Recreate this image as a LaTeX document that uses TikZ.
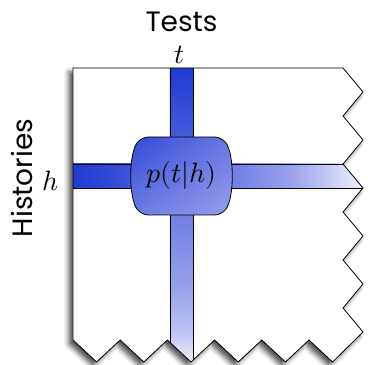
\documentclass[tikz,border=0pt]{standalone}
\usepackage{fontspec}
\usepackage{unicode-math}
\setmathfont{Latin Modern Math}
\setsansfont{Poppins}
\usepackage{xcolor}
\definecolor{hbdark}{RGB}{32,58,212}
\definecolor{hbmid}{RGB}{115,128,228}
\definecolor{hblight}{RGB}{150,160,235}
\definecolor{hbsoft}{RGB}{190,195,242}
\definecolor{hbfade}{RGB}{242,243,253}
\usepackage{tikz}
\usetikzlibrary{positioning, shadings, shadows.blur}

\newcommand{\hbmathsize}{\fontsize{28}{33}\selectfont}
\newcommand{\hbwordsize}{\fontsize{28}{34}\selectfont\sffamily}

% fades of the column (bottom to top) and of the row (left to right)
\pgfdeclareverticalshading{hbcolumnfade}{100bp}{color(0bp)=(hbfade); color(25bp)=(hbfade);
  color(30bp)=(hbsoft); color(38bp)=(hblight); color(75bp)=(hbdark); color(100bp)=(hbdark)}
\pgfdeclarehorizontalshading{hbrowfade}{100bp}{color(0bp)=(hbdark); color(25bp)=(hbdark);
  color(53bp)=(hbmid); color(62bp)=(hblight); color(68bp)=(hbsoft); color(75bp)=(hbfade);
  color(100bp)=(hbfade)}

% outline of the (cut off) history/test matrix
\newcommand{\hbmatrix}{(73,297) -- (343,297)
  \foreach \k in {1,...,11}{ -- ({ifthenelse(isodd(\k),363,343)},{297-24*\k}) }
  -- (332.6,3)
  \foreach \k in {10,...,0}{ -- ({73+23.6*\k},{ifthenelse(isodd(\k),3,25)}) }
  -- cycle}

\begin{document}
\begin{tikzpicture}[x=1pt, y=1pt,
  edge/.style={black, line width=0.8pt},
  probfill/.style={draw=black, line width=0.8pt, upper left=hbdark!92!white,
    upper right=hbmid!90!hbdark, lower left=hbmid!90!hbdark, lower right=hblight}]
  \useasboundingbox (0,0) rectangle (368,365);

  % white sheet with its shadow
  \fill[white, blur shadow={shadow xshift=-4pt, shadow yshift=-4pt,
    shadow blur radius=5pt, shadow opacity=70}] \hbmatrix;

  % the row h and the column t, cut by the zigzag edges
  \begin{scope}
    \clip \hbmatrix;
    \shade[shading=hbcolumnfade] (170,297) rectangle (193,3);
    \shade[shading=hbrowfade] (73,177) rectangle (363,201);
    \draw[edge] (170,297) -- (170,0);
    \draw[edge] (193,297) -- (193,0);
    \draw[edge] (73,177) -- (368,177);
    \draw[edge] (73,201) -- (368,201);
  \end{scope}
  \draw[edge, line join=miter] \hbmatrix;

  % the entry p(t|h)
  \node[font=\hbmathsize, inner sep=0pt] (prob) at (181.5,189) {\phantom{$p(t|h)$}};
  \begin{scope}[shift={(prob.center)}]
    \shade[probfill, rounded corners=7pt] (0,39) -- (40,39)
      .. controls (53,22) and (53,-22) .. (40,-39) -- (-40,-39)
      .. controls (-53,-22) and (-53,22) .. (-40,39) -- cycle;
  \end{scope}
  \node[font=\hbmathsize, inner sep=0pt] at (prob.center) {$p(t|h)$};

  % labels
  \node[font=\hbmathsize] (tlabel) at (180,310) {$t$};
  \node[font=\hbmathsize] (hlabel) at (51,184) {$h$};
  \node[font=\hbwordsize, anchor=base, inner sep=0pt] (tests) at (181.5,333) {Tests};
  \node[font=\hbwordsize, anchor=base, inner sep=0pt, rotate=90] (histories) at (33,187) {Histories};
\end{tikzpicture}
\end{document}
